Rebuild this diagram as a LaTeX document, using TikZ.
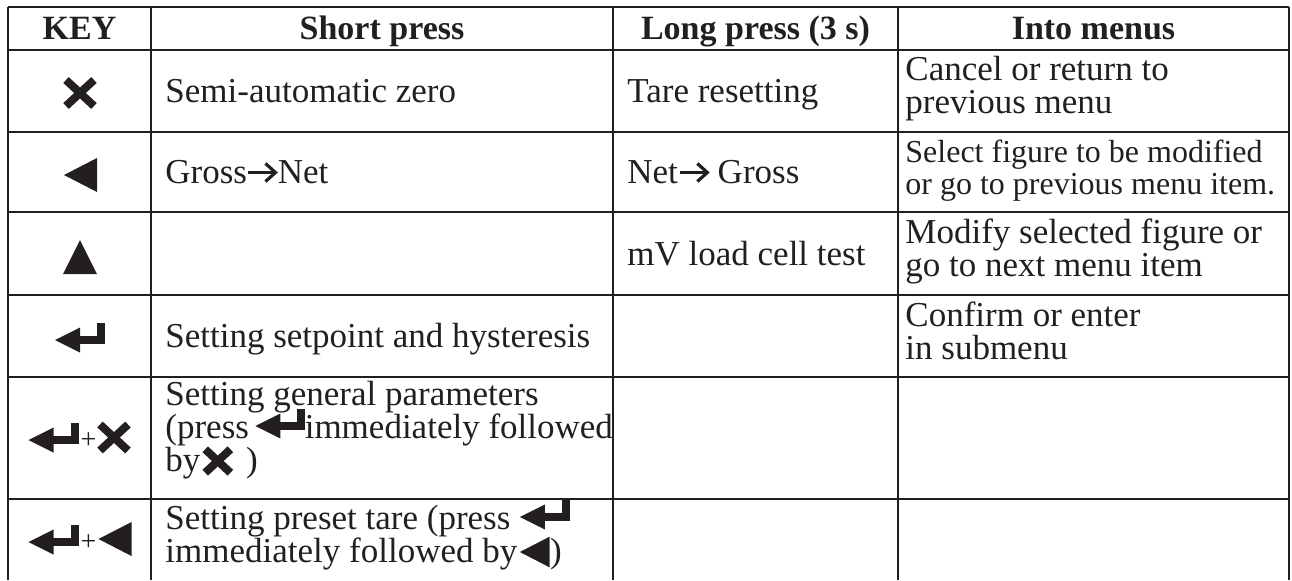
\documentclass[tikz,border=0pt]{standalone}
\usepackage{fontspec}
\setmainfont{Liberation Serif}
\usetikzlibrary{positioning}

\definecolor{ink}{HTML}{231F20}

\tikzset{
  cell/.style={anchor=base west, inner sep=0pt, text=ink, font=\fontsize{17.5}{21}\selectfont},
  smallcell/.style={cell, font=\fontsize{16}{19}\selectfont},
  headcell/.style={anchor=base, inner sep=0pt, text=ink, font=\bfseries\fontsize{17}{20}\selectfont},
  plussign/.style={inner sep=0pt, text=ink, font=\fontsize{14}{16}\selectfont},
  rowrule/.style={ink, line width=1.1pt},
  colrule/.style={ink, line width=0.65pt},
  outerrule/.style={ink, line width=1pt},
  % key glyphs, drawn in pixel units
  pics/xkey/.style={code={
    \draw[ink, line width=4pt] (-14,-13) -- (14,13) (-14,13) -- (14,-13);}},
  pics/leftkey/.style={code={
    \fill[ink] (-16.5,0) -- (16.5,-17) -- (16.5,17) -- cycle;}},
  pics/upkey/.style={code={
    \fill[ink] (-17,17) -- (17,17) -- (0,-17) -- cycle;}},
  pics/enterkey/.style={code={
    \fill[ink] (-25,0) -- (0,-12.5) -- (0,12.5) -- cycle;
    \fill[ink] (-1,-4) rectangle (25,4);
    \fill[ink] (17,-17) rectangle (25,4);}},
  pics/netarrow/.style={code={
    \draw[ink, line width=1.6pt] (-14,0) -- (12,0);
    \draw[ink, line width=1.6pt] (3,-9) -- (13,0) -- (3,9);}},
}

\begin{document}
\begin{tikzpicture}[x=0.5pt, y=-0.5pt]
  \useasboundingbox (0,0) rectangle (1292,580);

  % grid
  \foreach \y in {7,50,132,212,295,377,499}
    \draw[rowrule] (8,\y) -- (1289,\y);
  \foreach \x in {151,613,898}
    \draw[colrule] (\x,7) -- (\x,580);
  \draw[outerrule] (8,7) -- (8,580) (1289,7) -- (1289,580);

  % header
  \node[headcell] (hkey) at (79.5,39) {KEY};
  \node[headcell] (hshort) at (382,39) {Short press};
  \node[headcell] (hlong) at (755.5,39) {Long press (3 s)};
  \node[headcell] (hmenu) at (1093.5,39) {Into menus};

  % cancel key
  \pic at (80,93) {xkey};
  \node[cell] (s1) at (165,102.5) {Semi-automatic zero};
  \node[cell] (l1) at (627,102.5) {Tare resetting};
  \node[cell] (m1a) at (905,80) {Cancel or return to};
  \node[cell] (m1b) at (905,113) {previous menu};

  % left key
  \pic at (80.5,175) {leftkey};
  \node[cell] (s2a) at (165,183.5) {Gross};
  \pic[shift={(15,-11)}] at (s2a.base east) {netarrow};
  \node[cell] (s2b) at ([xshift=15pt]s2a.base east) {Net};
  \node[cell] (l2a) at (627,183.5) {Net};
  \pic[shift={(16,-11)}] at (l2a.base east) {netarrow};
  \node[cell] (l2b) at ([xshift=19.5pt]l2a.base east) {Gross};
  \node[smallcell] (m2a) at (905,162) {Select figure to be modified};
  \node[smallcell] (m2b) at (905,194) {or go to previous menu item.};

  % up key
  \pic at (80,257) {upkey};
  \node[cell] (l3) at (627,265) {mV load cell test};
  \node[cell] (m3a) at (905,243) {Modify selected figure or};
  \node[cell] (m3b) at (905,276) {go to next menu item};

  % enter key
  \pic at (80,340) {enterkey};
  \node[cell] (s4) at (165,347.5) {Setting setpoint and hysteresis};
  \node[cell] (m4a) at (905,326) {Confirm or enter};
  \node[cell] (m4b) at (905,359) {in submenu};

  % enter + cancel
  \pic at (53.5,440) {enterkey};
  \node[plussign] (p5) at (88.5,441) {+};
  \pic at (114,437.5) {xkey};
  \node[cell] (s5a) at (165,405) {Setting general parameters};
  \node[cell] (s5b) at (165,438) {(press};
  \pic[shift={(31,-12)}] at (s5b.base east) {enterkey};
  \node[cell] (s5c) at ([xshift=27.5pt]s5b.base east) {immediately followed};
  \node[cell] (s5d) at (165,471) {by};
  \pic[shift={(17,-10)}, scale=0.9] at (s5d.base east) {xkey};
  \node[cell] (s5e) at ([xshift=22.5pt]s5d.base east) {)};

  % enter + left
  \pic at (53.5,542) {enterkey};
  \node[plussign] (p6) at (88.5,543) {+};
  \pic at (115,539) {leftkey};
  \node[cell] (s6a) at (165,529) {Setting preset tare (press};
  \pic[shift={(34,-12)}] at (s6a.base east) {enterkey};
  \node[cell] (s6b) at (165,562) {immediately followed by};
  \pic[shift={(17,-10)}, scale=0.9] at (s6b.base east) {leftkey};
  \node[cell] (s6c) at ([xshift=16pt]s6b.base east) {)};
\end{tikzpicture}
\end{document}
